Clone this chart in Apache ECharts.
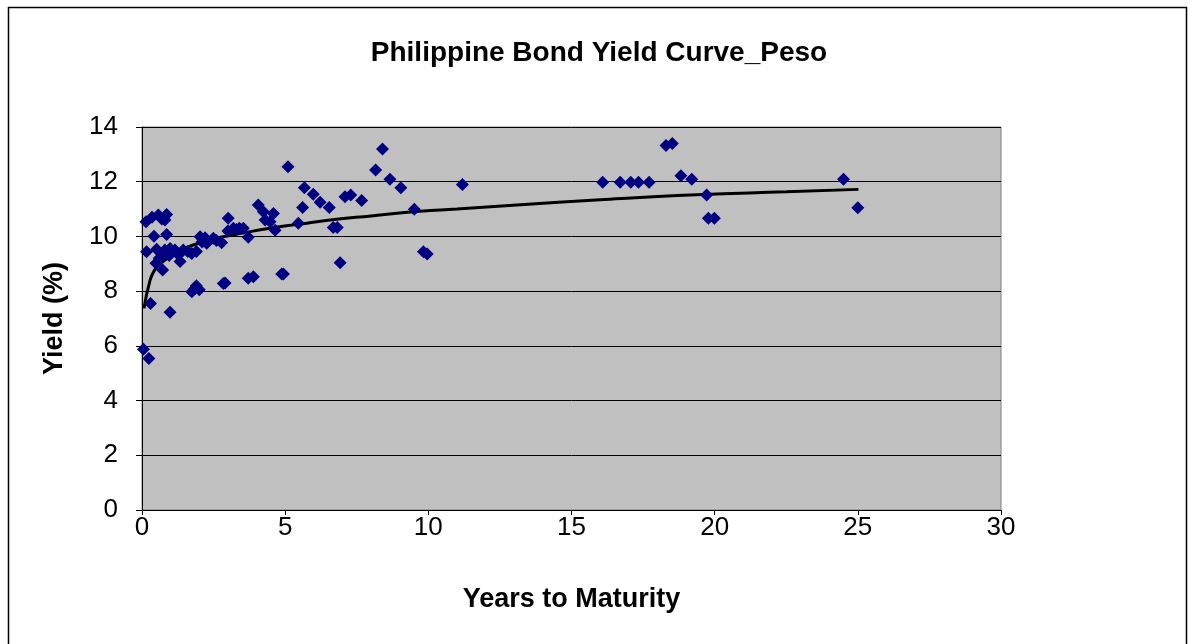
<!DOCTYPE html>
<html>
<head>
<meta charset="utf-8">
<script src="https://cdn.jsdelivr.net/npm/echarts@6/dist/echarts.min.js"></script>
<style>
  html, body { margin: 0; padding: 0; background: #fff; }
  #chart { width: 1194px; height: 644px; }
</style>
</head>
<body>
<div id="chart"></div>
<script>
// Bond yields: [years to maturity, yield %]
const bondYields = [
  [0.05, 5.88], [0.24, 5.54], [0.30, 7.55], [0.98, 7.23],
  [0.14, 10.54], [0.35, 10.70], [0.57, 10.78], [0.69, 10.64], [0.80, 10.60], [0.86, 10.80],
  [0.42, 10.01], [0.86, 10.07], [0.16, 9.44], [0.51, 9.53], [0.69, 9.38], [0.80, 9.50],
  [0.49, 9.02], [0.60, 9.20], [0.72, 8.77], [0.95, 9.30], [0.98, 9.56], [1.05, 9.45],
  [1.15, 9.50], [1.20, 9.40], [1.30, 9.35], [1.33, 9.08], [1.44, 9.50], [1.60, 9.45],
  [1.74, 9.38], [1.90, 9.45], [2.03, 9.99], [2.10, 9.80], [2.20, 9.95], [2.26, 9.75],
  [2.49, 9.93], [2.60, 9.85], [2.78, 9.77], [3.00, 10.20], [3.01, 10.66], [3.19, 10.30],
  [3.30, 10.25], [3.40, 10.30], [3.54, 10.30], [3.71, 9.97],
  [4.06, 11.15], [4.24, 10.90], [4.30, 10.60], [4.47, 10.54], [4.59, 10.84], [4.65, 10.23],
  [1.74, 7.98], [1.85, 8.10], [1.90, 8.20], [2.00, 8.05], [2.84, 8.28], [2.90, 8.30],
  [3.71, 8.47], [3.89, 8.53], [4.88, 8.63], [4.94, 8.63],
  [5.10, 12.55], [5.46, 10.48], [5.61, 11.06], [5.67, 11.78], [5.98, 11.54], [6.22, 11.25],
  [6.54, 11.06], [6.68, 10.33], [6.82, 10.33], [6.92, 9.04], [7.09, 11.45], [7.29, 11.51],
  [7.67, 11.31], [8.16, 12.43], [8.40, 13.20], [8.66, 12.09], [9.04, 11.78], [9.51, 10.99],
  [9.83, 9.44], [9.96, 9.36], [11.19, 11.90],
  [16.09, 11.98], [16.70, 11.98], [17.07, 11.98], [17.34, 11.98], [17.71, 11.98],
  [18.30, 13.32], [18.52, 13.40], [18.82, 12.22], [19.20, 12.09], [19.72, 11.51],
  [19.78, 10.66], [19.99, 10.66], [24.50, 12.09], [25.00, 11.05]
];

// Logarithmic trend line: [years, yield %]
const trendLine = [
  [0.07, 7.37], [0.27, 8.35], [0.44, 8.77], [0.73, 9.08], [1.14, 9.38], [1.61, 9.62],
  [2.19, 9.81], [2.65, 9.95], [3.50, 10.12], [4.47, 10.30], [5.50, 10.45], [6.57, 10.60],
  [8.00, 10.75], [9.71, 10.92], [11.00, 11.00], [13.09, 11.15], [16.00, 11.34],
  [19.37, 11.52], [22.50, 11.63], [25.02, 11.72]
];

const xTicks = { min: 0, max: 30, step: 5 };
const yTicks = { min: 0, max: 14, step: 2 };

const FONT = '"Liberation Sans", Arial, sans-serif';
const chart = echarts.init(document.getElementById('chart'));

chart.setOption({
  animation: false,
  backgroundColor: '#ffffff',
  graphic: [{
    type: 'rect',
    shape: { x: 8.5, y: 7.5, width: 1178, height: 660 },
    style: { fill: 'none', stroke: '#000', lineWidth: 1.5 },
    silent: true,
    z: -1
  }],
  title: {
    text: 'Philippine Bond Yield Curve_Peso',
    left: 594,
    textAlign: 'center',
    top: 34,
    textStyle: { fontFamily: FONT, fontSize: 28, fontWeight: 'bold', color: '#000' }
  },
  grid: {
    left: 142, top: 127, width: 859, height: 383,
    show: true,
    backgroundColor: '#C0C0C0',
    borderColor: '#808080',
    borderWidth: 1
  },
  xAxis: {
    type: 'value',
    min: xTicks.min, max: xTicks.max, interval: xTicks.step,
    name: 'Years to Maturity',
    nameLocation: 'middle',
    nameGap: 76,
    nameTextStyle: { fontFamily: FONT, fontSize: 27, fontWeight: 'bold', color: '#000' },
    axisLine: { show: true, lineStyle: { color: '#000', width: 1 } },
    axisTick: { show: true, length: 5, lineStyle: { color: '#000' } },
    axisLabel: { fontFamily: FONT, fontSize: 26, color: '#000', margin: 5 },
    splitLine: { show: false }
  },
  yAxis: {
    type: 'value',
    min: yTicks.min, max: yTicks.max, interval: yTicks.step,
    name: 'Yield (%)',
    nameLocation: 'middle',
    nameGap: 74,
    nameRotate: 90,
    nameTextStyle: { fontFamily: FONT, fontSize: 27, fontWeight: 'bold', color: '#000' },
    axisLine: { show: true, lineStyle: { color: '#000', width: 1 } },
    axisTick: { show: true, length: 6, lineStyle: { color: '#000' } },
    axisLabel: { fontFamily: FONT, fontSize: 26, color: '#000', margin: 24 },
    splitLine: { show: true, lineStyle: { color: '#000', width: 1 } }
  },
  series: [
    {
      type: 'line',
      data: trendLine,
      smooth: true,
      showSymbol: false,
      lineStyle: { color: '#000', width: 3 },
      z: 3
    },
    {
      type: 'scatter',
      data: bondYields,
      symbol: 'diamond',
      symbolSize: 13,
      itemStyle: { color: '#000080', opacity: 1 },
      z: 4
    }
  ]
});
</script>
</body>
</html>
